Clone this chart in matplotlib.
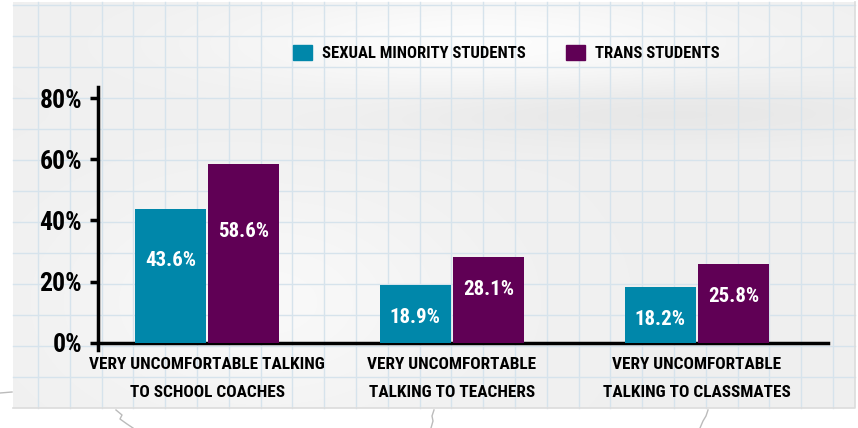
import numpy as np
import matplotlib
matplotlib.use("Agg")
import matplotlib.pyplot as plt
from matplotlib import font_manager
from matplotlib.patches import Rectangle, Patch

# data
categories = ["VERY UNCOMFORTABLE TALKING\nTO SCHOOL COACHES",
              "VERY UNCOMFORTABLE\nTALKING TO TEACHERS",
              "VERY UNCOMFORTABLE\nTALKING TO CLASSMATES"]
series_names = ["SEXUAL MINORITY STUDENTS", "TRANS STUDENTS"]
sexual_minority = [43.6, 18.9, 18.2]
trans = [58.6, 28.1, 25.8]
yticks = [0, 20, 40, 60, 80]
ytick_labels = ["0%", "20%", "40%", "60%", "80%"]

TEAL = "#0087aa"
PURPLE = "#600055"

# pick the narrowest face available for the hand-lettered look
names = {f.name for f in font_manager.fontManager.ttflist}
FONT = dict(family="DejaVu Sans", stretch="condensed")
for cand in ["Liberation Sans Narrow", "Roboto Condensed", "Open Sans Condensed"]:
    if cand in names:
        FONT = dict(family=cand)
        break

W, H = 858, 428
fig = plt.figure(figsize=(W / 100, H / 100), dpi=100)

# graph paper background
bg = fig.add_axes([0, 0, 1, 1])
bg.set_xlim(0, W)
bg.set_ylim(H, 0)
bg.axis("off")
bg.add_patch(Rectangle((0, 0), W, H, color="white", zorder=0))

yy, xx = np.mgrid[0:406, 0:842]
shade = 0.94 + 0.05 * np.exp(-(((xx - 470) / 260) ** 2 + ((yy - 40) / 50) ** 2))
shade -= 0.035 * np.exp(-(((xx - 640) / 260) ** 2 + ((yy - 110) / 30) ** 2))
shade += 0.035 * np.exp(-(((xx - 250) / 200) ** 2 + ((yy - 300) / 120) ** 2))
shade = np.clip(shade, 0, 1)
img = np.dstack([shade, shade, shade])
bg.imshow(img, extent=(13, 855, 408, 2), aspect="auto", zorder=1,
          interpolation="bilinear")
for gx in np.arange(38, 855, 31.8):
    bg.plot([gx, gx], [2, 408], color="#d6e3ec", lw=1, zorder=2)
for gy in np.arange(5, 408, 31.0):
    bg.plot([13, 855], [gy, gy], color="#d6e3ec", lw=1, zorder=2)
bg.plot([13, 855, 855], [408, 408, 2], color="#dcdcdc", lw=1.2, zorder=2)
# torn-paper scribbles under the sheet
bg.plot([116, 122, 120, 127, 133], [410, 415, 419, 424, 428], color="#bbbbbb", lw=1, zorder=2)
bg.plot([434, 432, 433, 431], [410, 416, 421, 428], color="#bbbbbb", lw=1, zorder=2)
bg.plot([708, 706, 703, 700], [410, 416, 421, 428], color="#bbbbbb", lw=1, zorder=2)
bg.plot([0, 12], [393, 392], color="#bbbbbb", lw=1, zorder=2)

# main chart
ax = fig.add_axes([97.5 / W, 78 / H, (828 - 97.5) / W, (350 - 87) / H])
ax.patch.set_alpha(0)
x = np.arange(len(categories))
bw = 0.29
ax.bar(x - 0.15, sexual_minority, bw, color=TEAL, zorder=3)
ax.bar(x + 0.15, trans, bw, color=PURPLE, zorder=3)

for xi, v in zip(x - 0.15, sexual_minority):
    ax.text(xi, min(0.62 * v, v - 10.5), f"{v}%", color="white", ha="center",
            va="center", fontsize=15, fontweight="bold", zorder=4, **FONT)
for xi, v in zip(x + 0.15, trans):
    ax.text(xi, min(0.62 * v, v - 10.5), f"{v}%", color="white", ha="center",
            va="center", fontsize=15, fontweight="bold", zorder=4, **FONT)

ax.set_xlim(-0.447, 2.535)
ax.set_ylim(-2.3, 83.6)
for s in ["top", "right"]:
    ax.spines[s].set_visible(False)
ax.spines["bottom"].set_position(("data", 0))
ax.spines["left"].set_linewidth(2.5)
ax.spines["bottom"].set_linewidth(2.5)
ax.spines["left"].set_bounds(-2.3, 83.6)

ax.set_yticks(yticks)
ax.set_yticklabels(ytick_labels, fontsize=18.5, fontweight="bold", **FONT)
ax.tick_params(axis="y", length=6, width=2.5, pad=5)
ax.set_xticks(x)
ax.set_xticklabels(categories, fontsize=12.4, fontweight="bold",
                   linespacing=2.1, **FONT)
ax.tick_params(axis="x", length=0, pad=10)

handles = [Patch(color=TEAL), Patch(color=PURPLE)]
fig.legend(handles, series_names, loc="center", bbox_to_anchor=(0.59, 0.876),
           ncol=2, frameon=False, handlelength=1.14, handleheight=1.0,
           handletextpad=0.6, columnspacing=2.45,
           prop=dict(size=12, weight="bold", **FONT))

fig.savefig("out.png", dpi=100)
